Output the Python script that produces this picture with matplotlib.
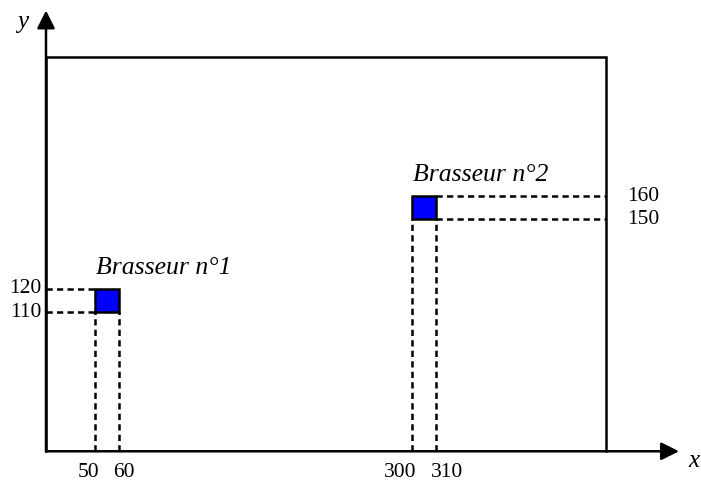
import numpy as np
import matplotlib
matplotlib.use("Agg")
from matplotlib import pyplot as plt
from matplotlib.patches import Rectangle

# Brasseur positions (x range, y range) in room units
names = ["Brasseur n°1", "Brasseur n°2"]
x_lo = [50, 300]
x_hi = [60, 310]
y_lo = [110, 150]
y_hi = [120, 160]

# room outline and axes extent (schematic, not to scale in x)
x_origin, x_room, x_arrow = 30, 380, 420
y_origin, y_room, y_arrow = 50, 220, 240

# schematic x scale: piecewise linear, squares drawn wider than true scale
sx_vals = [0, 30, 50, 60, 300, 310, 380, 420, 450]
sx_pix = [0, 46, 95, 119, 412, 436, 606, 679, 701]


def fwd(v):
    return np.interp(v, sx_vals, sx_pix)


def inv(p):
    return np.interp(p, sx_pix, sx_vals)


plt.rcParams['font.family'] = ['Liberation Serif', 'DejaVu Serif']

fig = plt.figure(figsize=(7.01, 4.84), dpi=100)
ax = fig.add_axes([0, 0, 1, 1])
ax.set_xscale('function', functions=(fwd, inv))
ax.set_xlim(0, 450)
ax.set_ylim(35.9, 244.5)
ax.axis('off')

lw = 1.8
dash = (0, (2.5, 1.7))

# axes arrows
arrow = dict(arrowstyle='-|>', mutation_scale=27, color='black', lw=lw,
             shrinkA=0, shrinkB=0)
ax.annotate('', xy=(x_arrow, y_origin), xytext=(x_origin, y_origin), arrowprops=arrow)
ax.annotate('', xy=(x_origin, y_arrow), xytext=(x_origin, y_origin), arrowprops=arrow)
ax.annotate('x', xy=(x_arrow, y_origin), xytext=(11, -7), textcoords='offset points',
            fontsize=18, style='italic', ha='center', va='center')
ax.annotate('y', xy=(x_origin, y_arrow), xytext=(-17, -8), textcoords='offset points',
            fontsize=18, style='italic', ha='center', va='center')

# room outline
ax.plot([x_origin, x_origin, x_room, x_room], [y_origin, y_room, y_room, y_origin],
        color='black', lw=lw, solid_joinstyle='miter')

for i in range(len(names)):
    # vertical dashes down to the x axis
    for xv in (x_lo[i], x_hi[i]):
        ax.plot([xv, xv], [y_origin, y_lo[i]], color='black', lw=lw, ls=dash)
    # horizontal dashes to the y axis (left) or the room wall (right)
    if i == 0:
        hx0, hx1 = x_origin, x_lo[i]
    else:
        hx0, hx1 = x_hi[i], x_room
    for yv in (y_lo[i], y_hi[i]):
        ax.plot([hx0, hx1], [yv, yv], color='black', lw=lw, ls=dash)

    ax.add_patch(Rectangle((x_lo[i], y_lo[i]), x_hi[i] - x_lo[i], y_hi[i] - y_lo[i],
                           facecolor='#0000ff', edgecolor='black', lw=lw, zorder=3))
    ax.annotate(names[i], xy=(x_lo[i], y_hi[i]), xytext=(1, 7), textcoords='offset points',
                fontsize=18.5, style='italic', ha='left', va='bottom')

    # tick labels on x
    ax.annotate(str(x_lo[i]), xy=(x_lo[i], y_origin), xytext=(3, -15.5), textcoords='offset points',
                fontsize=15.5, ha='right', va='center')
    ax.annotate(str(x_hi[i]), xy=(x_hi[i], y_origin), xytext=(-4, -15.5), textcoords='offset points',
                fontsize=15.5, ha='left', va='center')

    # tick labels on y
    for yv in (y_lo[i], y_hi[i]):
        if i == 0:
            ax.annotate(str(yv), xy=(x_origin, yv), xytext=(-3, 0), textcoords='offset points',
                        fontsize=15.5, ha='right', va='center')
        else:
            ax.annotate(str(yv), xy=(x_room, yv), xytext=(15, 0), textcoords='offset points',
                        fontsize=15.5, ha='left', va='center')

fig.savefig('out.png', dpi=100)
